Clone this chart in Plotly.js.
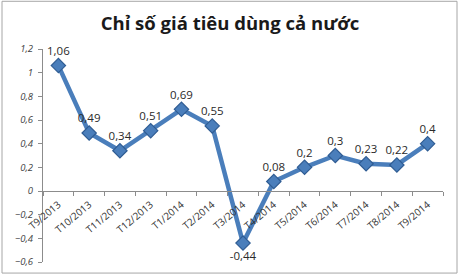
<!DOCTYPE html>
<html>
<head>
<meta charset="utf-8">
<script src="https://cdn.plot.ly/plotly-3.0.1.min.js"></script>
<style>
html,body{margin:0;padding:0;background:#fff;}
#chart{width:460px;height:278px;}
</style>
</head>
<body>
<div id="chart"></div>
<script>
const categories = ["T9/2013","T10/2013","T11/2013","T12/2013","T1/2014","T2/2014","T3/2014","T4/2014","T5/2014","T6/2014","T7/2014","T8/2014","T9/2014"];
const values = [1.06, 0.49, 0.34, 0.51, 0.69, 0.55, -0.44, 0.08, 0.2, 0.3, 0.23, 0.22, 0.4];
const labels = values.map(v => String(v).replace('.', ','));
const positions = values.map(v => v < 0 ? 'bottom center' : 'top center');

const trace = {
  x: categories,
  y: values,
  type: 'scatter',
  mode: 'lines+markers+text',
  text: labels,
  textposition: positions,
  textfont: {family: 'Open Sans, sans-serif', size: 11.5, color: '#2a2a2a'},
  line: {color: '#4A7EBB', width: 4.5},
  marker: {symbol: 'diamond', size: 11, color: '#4A7EBB', line: {color: '#2F5C93', width: 1.2}},
  cliponaxis: false,
  hoverinfo: 'none'
};

const layout = {
  width: 460, height: 278,
  margin: {l: 43, r: 17, t: 49, b: 16},
  paper_bgcolor: '#ffffff',
  plot_bgcolor: '#ffffff',
  separators: ', ',
  showlegend: false,
  title: {text: 'Chỉ số giá tiêu dùng cả nước', font: {family: 'Open Sans, sans-serif', size: 18.5, color: '#1a1a1a', weight: 'bold'}, x: 0.5, xanchor: 'center', y: 0.915, yanchor: 'middle'},
  xaxis: {
    type: 'category',
    range: [-0.5, 12.5],
    anchor: 'free',
    position: 1/3,
    showline: true, linecolor: '#8c8c8c', linewidth: 1,
    showgrid: false, zeroline: false,
    ticks: 'outside', tickson: 'boundaries', ticklen: 4, tickcolor: '#8c8c8c',
    tickangle: -40,
    ticklabelstandoff: 3,
    tickfont: {family: 'Open Sans, sans-serif', size: 10, color: '#333'}
  },
  yaxis: {
    range: [-0.6, 1.2],
    dtick: 0.2, tick0: 0,
    showline: true, linecolor: '#8c8c8c', linewidth: 1,
    showgrid: false, zeroline: false,
    ticks: 'outside', ticklen: 4, tickcolor: '#8c8c8c',
    ticklabelstandoff: 3,
    tickfont: {family: 'Open Sans, sans-serif', size: 9.5, color: '#444', style: 'italic'}
  },
  shapes: [{
    type: 'rect', xref: 'paper', yref: 'paper',
    x0: -0.1025, x1: 1.035, y0: -0.052, y1: 1.224,
    line: {color: '#a6a6a6', width: 1}, fillcolor: 'rgba(0,0,0,0)', layer: 'below'
  }]
};

Plotly.newPlot('chart', [trace], layout, {displayModeBar: false, staticPlot: true});
</script>
</body>
</html>
